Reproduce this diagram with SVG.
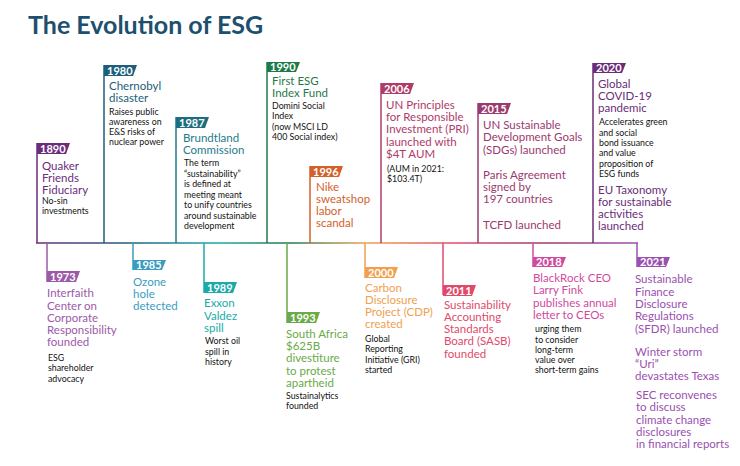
<svg xmlns="http://www.w3.org/2000/svg" width="740" height="466" viewBox="0 0 740 466">
<defs>
<linearGradient id="tl" gradientUnits="userSpaceOnUse" x1="37" y1="0" x2="637" y2="0">
<stop offset="0" stop-color="#6b2d7b"/><stop offset="0.15" stop-color="#1d5e7a"/><stop offset="0.3" stop-color="#1aaaa8"/><stop offset="0.42" stop-color="#1f7a4a"/><stop offset="0.55" stop-color="#f0a050"/><stop offset="0.7" stop-color="#e04a6a"/><stop offset="0.85" stop-color="#9b3a6e"/><stop offset="1" stop-color="#9a50b0"/>
</linearGradient>
<style>
text{font-family:Lato,"Noto Sans",sans-serif}
.y{font-size:11px;font-weight:bold;fill:#fff}
.t{font-size:11.5px}
.b{font-size:8.8px;fill:#111}
.c line{stroke-width:1.5}
</style>
</defs>
<rect width="740" height="466" fill="#fff"/>
<text x="28" y="34" style="font-size:25px;font-weight:bold;fill:#1d4f6e">The Evolution of ESG</text>
<g class="c" id="connectors">
<line x1="36" y1="243" x2="638" y2="243" stroke="url(#tl)" stroke-width="2"/>
<line x1="37" y1="143" x2="37" y2="243" stroke="#6b2d7b"/>
<line x1="104" y1="65" x2="104" y2="243" stroke="#1d5e7a"/>
<line x1="176" y1="117" x2="176" y2="243" stroke="#1e7b8a"/>
<line x1="267" y1="62" x2="267" y2="243" stroke="#1f7a4a"/>
<line x1="310" y1="166" x2="310" y2="243" stroke="#d4612a"/>
<line x1="381" y1="83" x2="381" y2="243" stroke="#b03a6a"/>
<line x1="478" y1="103" x2="478" y2="243" stroke="#9b3a6e"/>
<line x1="593" y1="63" x2="593" y2="243" stroke="#6a2d78"/>
<line x1="47" y1="243" x2="47" y2="282" stroke="#9b59a8"/>
<line x1="133" y1="243" x2="133" y2="270" stroke="#3a9cc0"/>
<line x1="204" y1="243" x2="204" y2="293" stroke="#1aaaa8"/>
<line x1="287" y1="243" x2="287" y2="323" stroke="#6aaa48"/>
<line x1="365" y1="243" x2="365" y2="278" stroke="#f0a050"/>
<line x1="443" y1="243" x2="443" y2="295" stroke="#e04a6a"/>
<line x1="533" y1="243" x2="533" y2="267" stroke="#d04aa0"/>
<line x1="637" y1="243" x2="637" y2="267" stroke="#9a50b0"/>
</g>
<g id="e1890"><polygon points="37,143 70,143 66,154 37,154" fill="#6b2d7b"/><text class="y" x="40" y="152.5">1890</text>
<text class="t" fill="#6b2d7b"><tspan x="42" y="170">Quaker</tspan><tspan x="42" y="182">Friends</tspan><tspan x="42" y="194">Fiduciary</tspan></text>
<text class="b"><tspan x="42" y="204">No-sin</tspan><tspan x="42" y="214">investments</tspan></text></g>
<g id="e1980"><polygon points="104,65 137,65 133,76 104,76" fill="#1d5e7a"/><text class="y" x="107" y="74.5">1980</text>
<text class="t" fill="#1d5e7a"><tspan x="109" y="90">Chernobyl</tspan><tspan x="109" y="102">disaster</tspan></text>
<text class="b"><tspan x="109" y="115">Raises public</tspan><tspan x="109" y="125">awareness on</tspan><tspan x="109" y="135">E&amp;S risks of</tspan><tspan x="109" y="145">nuclear power</tspan></text></g>
<g id="e1987"><polygon points="176,117 209,117 205,128 176,128" fill="#1e6e80"/><text class="y" x="179" y="126.5">1987</text>
<text class="t" fill="#1e7b8a"><tspan x="183" y="142">Brundtland</tspan><tspan x="183" y="154">Commission</tspan></text>
<text class="b"><tspan x="184" y="166">The term</tspan><tspan x="184" y="176.5">“sustainability”</tspan><tspan x="184" y="187">is defined at</tspan><tspan x="184" y="197.5">meeting meant</tspan><tspan x="184" y="208">to unify countries</tspan><tspan x="184" y="218.5">around sustainable</tspan><tspan x="184" y="229">development</tspan></text></g>
<g id="e1990"><polygon points="267,62 300,62 296,72 267,72" fill="#1f7a4a"/><text class="y" x="270" y="71">1990</text>
<text class="t" fill="#1f7a4a"><tspan x="272" y="85">First ESG</tspan><tspan x="272" y="97">Index Fund</tspan></text>
<text class="b"><tspan x="272" y="109">Domini Social</tspan><tspan x="272" y="119">Index</tspan><tspan x="272" y="130">(now MSCI LD</tspan><tspan x="272" y="140">400 Social index)</tspan></text></g>
<g id="e1996"><polygon points="310,166 343,166 339,177 310,177" fill="#d4612a"/><text class="y" x="313" y="175.5">1996</text>
<text class="t" fill="#d4612a"><tspan x="316" y="191">Nike</tspan><tspan x="316" y="203">sweatshop</tspan><tspan x="316" y="215">labor</tspan><tspan x="316" y="227">scandal</tspan></text></g>
<g id="e2006"><polygon points="381,83 414,83 410,94 381,94" fill="#b03a6a"/><text class="y" x="384" y="92.5">2006</text>
<text class="t" fill="#b03a6a"><tspan x="386" y="109">UN Principles</tspan><tspan x="386" y="121">for Responsible</tspan><tspan x="386" y="133">Investment (PRI)</tspan><tspan x="386" y="146">launched with</tspan><tspan x="386" y="158">$4T AUM</tspan></text>
<text class="b"><tspan x="387" y="172">(AUM in 2021:</tspan><tspan x="387" y="182">$103.4T)</tspan></text></g>
<g id="e2015"><polygon points="478,103 511,103 507,114 478,114" fill="#9b3a6e"/><text class="y" x="481" y="112.5">2015</text>
<text class="t" fill="#9b3a6e"><tspan x="483" y="129">UN Sustainable</tspan><tspan x="483" y="141">Development Goals</tspan><tspan x="483" y="154">(SDGs) launched</tspan><tspan x="483" y="179">Paris Agreement</tspan><tspan x="483" y="191">signed by</tspan><tspan x="483" y="203">197 countries</tspan><tspan x="483" y="229">TCFD launched</tspan></text></g>
<g id="e2020"><polygon points="593,63 626,63 622,73 593,73" fill="#6a2d78"/><text class="y" x="596" y="72">2020</text>
<text class="t" fill="#6a2d78"><tspan x="598" y="88">Global</tspan><tspan x="598" y="100">COVID-19</tspan><tspan x="598" y="112">pandemic</tspan></text>
<text class="b"><tspan x="599" y="125">Accelerates green</tspan><tspan x="599" y="135.5">and social</tspan><tspan x="599" y="146">bond issuance</tspan><tspan x="599" y="156">and value</tspan><tspan x="599" y="166.5">proposition of</tspan><tspan x="599" y="177">ESG funds</tspan></text>
<text class="t" fill="#6a2d78"><tspan x="598" y="194">EU Taxonomy</tspan><tspan x="598" y="206">for sustainable</tspan><tspan x="598" y="218">activities</tspan><tspan x="598" y="230">launched</tspan></text></g>
<g id="e1973"><polygon points="47,271 80,271 76,282 47,282" fill="#9b59a8"/><text class="y" x="50" y="280.5">1973</text>
<text class="t" fill="#9b59a8"><tspan x="47" y="297">Interfaith</tspan><tspan x="47" y="310">Center on</tspan><tspan x="47" y="322">Corporate</tspan><tspan x="47" y="334">Responsibility</tspan><tspan x="47" y="346">founded</tspan></text>
<text class="b"><tspan x="48" y="361">ESG</tspan><tspan x="48" y="371">shareholder</tspan><tspan x="48" y="382">advocacy</tspan></text></g>
<g id="e1985"><polygon points="133,260 166,260 162,270 133,270" fill="#3a9cc0"/><text class="y" x="136" y="269">1985</text>
<text class="t" fill="#3a9cc0"><tspan x="133" y="286">Ozone</tspan><tspan x="133" y="298">hole</tspan><tspan x="133" y="310">detected</tspan></text></g>
<g id="e1989"><polygon points="204,282 237,282 233,293 204,293" fill="#1aaaa8"/><text class="y" x="207" y="291.5">1989</text>
<text class="t" fill="#1aaaa8"><tspan x="204" y="307">Exxon</tspan><tspan x="204" y="320">Valdez</tspan><tspan x="204" y="332">spill</tspan></text>
<text class="b"><tspan x="205" y="344">Worst oil</tspan><tspan x="205" y="355">spill in</tspan><tspan x="205" y="365">history</tspan></text></g>
<g id="e1993"><polygon points="287,312 320,312 316,323 287,323" fill="#6aaa48"/><text class="y" x="290" y="321.5">1993</text>
<text class="t" fill="#6aaa48"><tspan x="286" y="338">South Africa</tspan><tspan x="286" y="350">$625B</tspan><tspan x="286" y="362">divestiture</tspan><tspan x="286" y="375">to protest</tspan><tspan x="286" y="387">apartheid</tspan></text>
<text class="b"><tspan x="286" y="399">Sustainalytics</tspan><tspan x="286" y="409">founded</tspan></text></g>
<g id="e2000"><polygon points="365,267 398,267 394,278 365,278" fill="#f0a050"/><text class="y" x="368" y="276.5">2000</text>
<text class="t" fill="#f0a050"><tspan x="365" y="292">Carbon</tspan><tspan x="365" y="304">Disclosure</tspan><tspan x="365" y="316">Project (CDP)</tspan><tspan x="365" y="328">created</tspan></text>
<text class="b"><tspan x="365" y="342">Global</tspan><tspan x="365" y="352">Reporting</tspan><tspan x="365" y="363">Initiative (GRI)</tspan><tspan x="365" y="373">started</tspan></text></g>
<g id="e2011"><polygon points="443,285 476,285 472,296 443,296" fill="#e04a6a"/><text class="y" x="446" y="294.5">2011</text>
<text class="t" fill="#e04a6a"><tspan x="444" y="309">Sustainability</tspan><tspan x="444" y="321">Accounting</tspan><tspan x="444" y="333">Standards</tspan><tspan x="444" y="345">Board (SASB)</tspan><tspan x="444" y="358">founded</tspan></text></g>
<g id="e2018"><polygon points="533,257 566,257 562,267 533,267" fill="#d04aa0"/><text class="y" x="536" y="266">2018</text>
<text class="t" fill="#d04aa0"><tspan x="533" y="282">BlackRock CEO</tspan><tspan x="533" y="294">Larry Fink</tspan><tspan x="533" y="307">publishes annual</tspan><tspan x="533" y="319">letter to CEOs</tspan></text>
<text class="b"><tspan x="535" y="332">urging them</tspan><tspan x="535" y="342.5">to consider</tspan><tspan x="535" y="352.5">long-term</tspan><tspan x="535" y="363">value over</tspan><tspan x="535" y="373">short-term gains</tspan></text></g>
<g id="e2021"><polygon points="637,257 670,257 666,267 637,267" fill="#9a50b0"/><text class="y" x="640" y="266">2021</text>
<text class="t" fill="#9a50b0"><tspan x="635" y="283">Sustainable</tspan><tspan x="635" y="296">Finance</tspan><tspan x="635" y="308">Disclosure</tspan><tspan x="635" y="320">Regulations</tspan><tspan x="635" y="333">(SFDR) launched</tspan><tspan x="635" y="356">Winter storm</tspan><tspan x="635" y="368">“Uri”</tspan><tspan x="635" y="380">devastates Texas</tspan><tspan x="636" y="399">SEC reconvenes</tspan><tspan x="636" y="411">to discuss</tspan><tspan x="636" y="424">climate change</tspan><tspan x="636" y="436">disclosures</tspan><tspan x="636" y="448">in financial reports</tspan></text></g>
</svg>
